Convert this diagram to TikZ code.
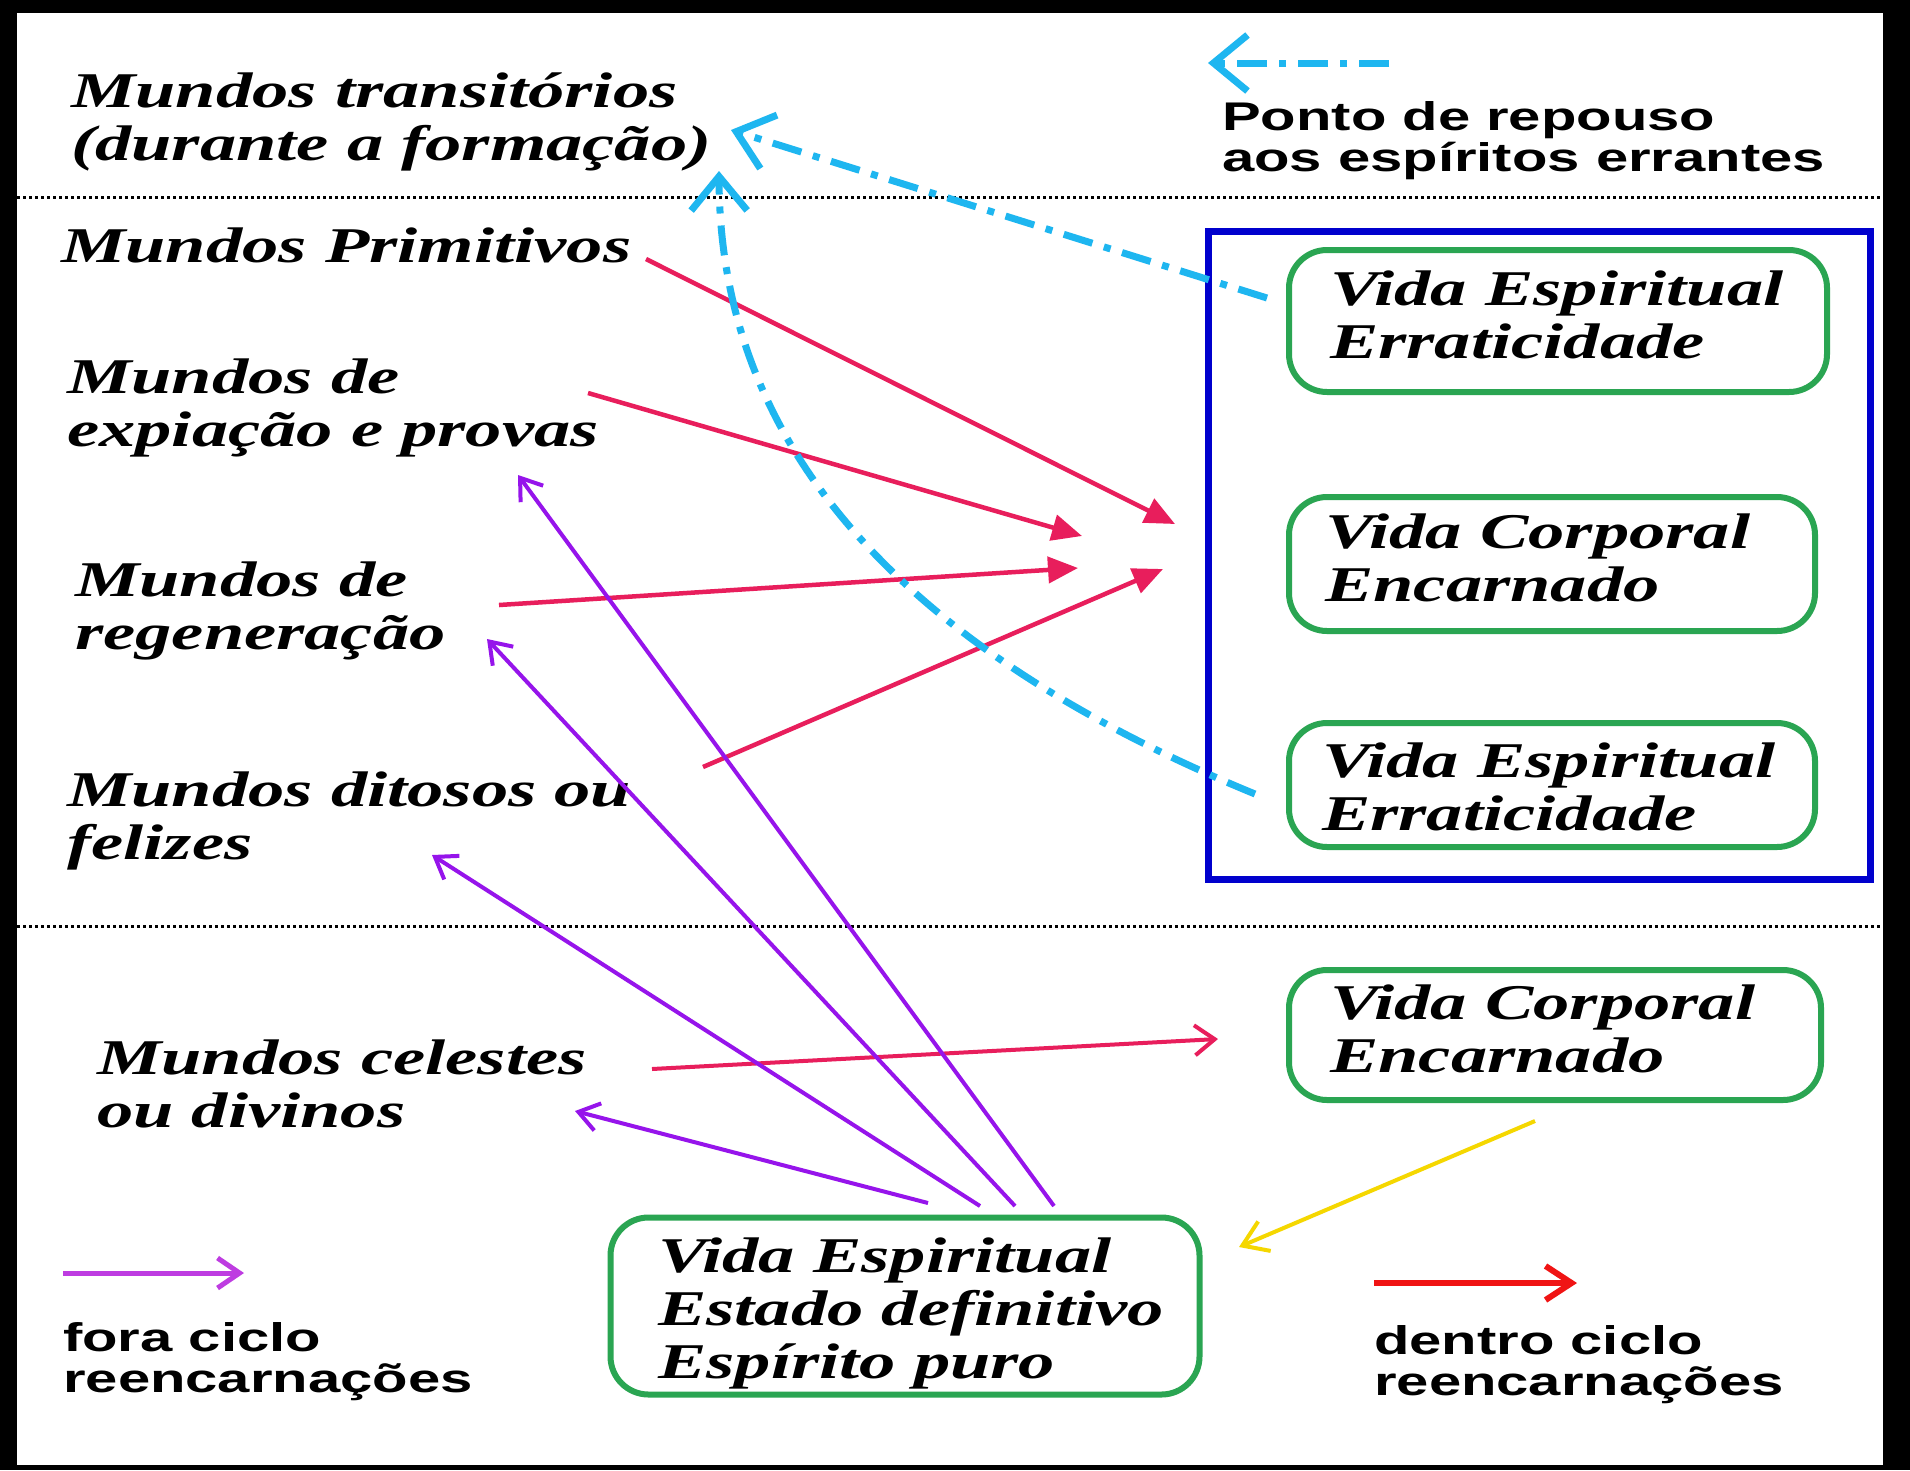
\documentclass[tikz,border=0pt]{standalone}
\usepackage{fontspec}
\usetikzlibrary{arrows.meta}
\newfontfamily\serifw{Liberation Serif}[FakeStretch=1.45]
\newfontfamily\sansw{Liberation Sans}[FakeStretch=1.45]
\definecolor{pinkc}{RGB}{232,30,92}
\definecolor{purpc}{RGB}{150,20,235}
\definecolor{legpurp}{RGB}{190,60,225}
\definecolor{cyanc}{RGB}{30,182,240}
\definecolor{greenc}{RGB}{42,165,82}
\definecolor{bluec}{RGB}{0,0,205}
\definecolor{yellc}{RGB}{245,215,0}
\definecolor{redc}{RGB}{240,20,20}
\begin{document}
\begin{tikzpicture}[x=1pt,y=-1pt,
  wtext/.style={inner sep=0pt, anchor=base west, align=left, font=\serifw\bfseries\itshape\fontsize{50}{53}\selectfont},
  stext/.style={inner sep=0pt, anchor=base west, align=left, font=\sansw\bfseries\fontsize{40}{41}\selectfont},
  gbox/.style={draw=greenc, line width=6pt, rounded corners=38pt, rectangle, inner sep=0pt},
  bbox/.style={draw=bluec, line width=7pt, rectangle, inner sep=0pt},
  sep/.style={draw=black, line width=3pt, dash pattern=on 3pt off 3pt},
  pinkarr/.style={draw=pinkc, line width=4.5pt, -{Triangle[length=30pt,width=26pt]}},
  pinkopen/.style={draw=pinkc, line width=4pt, -{Straight Barb[length=20pt,width=30pt]}},
  purparr/.style={draw=purpc, line width=4pt, -{Straight Barb[length=20pt,width=28pt]}},
  legpurparr/.style={draw=legpurp, line width=5pt, -{Straight Barb[length=22pt,width=30pt]}},
  redarr/.style={draw=redc, line width=6pt, -{Straight Barb[length=26pt,width=34pt]}},
  yellarr/.style={draw=yellc, line width=4pt, -{Straight Barb[length=24pt,width=32pt]}},
  cyanarr/.style={draw=cyanc, line width=7pt, dash pattern=on 30pt off 12pt on 7pt off 12pt, -{Straight Barb[length=34pt,width=56pt]}}
]
\useasboundingbox (0,0) rectangle (1910,1470);
\fill[black] (0,0) rectangle (1910,1470);
\fill[white] (17,13) rectangle (1883,1465);

% separators
\coordinate (s1a) at (17,197);
\coordinate (s1b) at (1910,197);
\coordinate (s2a) at (17,926);
\coordinate (s2b) at (1883,926);
\draw[sep] (s1a) -- (s1b);
\draw[sep] (s2a) -- (s2b);

% blue box
\node[bbox, minimum width=662pt, minimum height=648pt] (blue) at (1539,555) {};

% green boxes
\node[gbox, minimum width=538pt, minimum height=142pt] (g1) at (1558,321) {};
\node[gbox, minimum width=526pt, minimum height=134pt] (g2) at (1552,564) {};
\node[gbox, minimum width=526pt, minimum height=124pt] (g3) at (1552,785) {};
\node[gbox, minimum width=532pt, minimum height=130pt] (g4) at (1555,1035) {};
\node[gbox, minimum width=589pt, minimum height=177pt] (g5) at (905,1306) {};

% box texts (anchor = baseline of last line)
\node[wtext] (t1) at (1330,358) {Vida Espiritual\\Erraticidade};
\node[wtext] (t2) at (1325,601) {Vida Corporal\\Encarnado};
\node[wtext] (t3) at (1322,830) {Vida Espiritual\\Erraticidade};
\node[wtext] (t4) at (1330,1072) {Vida Corporal\\Encarnado};
\node[wtext] (t5) at (658,1378) {Vida Espiritual\\Estado definitivo\\Espírito puro};

% world labels
\node[wtext] (trans) at (71,160) {Mundos transitórios\\(durante a formação)};
\node[wtext] (prim) at (61,262) {Mundos Primitivos};
\node[wtext] (expi) at (67,446) {Mundos de\\expiação e provas};
\node[wtext] (rege) at (75,649) {Mundos de\\regeneração};
\node[wtext] (dito) at (67,859) {Mundos ditosos ou\\felizes};
\node[wtext] (cele) at (97,1127) {Mundos celestes\\ou divinos};

% legend texts
\node[stext] (ponto) at (1222,171) {Ponto de repouso\\aos espíritos errantes};
\node[stext] (fora) at (63,1392) {fora ciclo\\reencarnações};
\node[stext] (dentro) at (1374,1395) {dentro ciclo\\reencarnações};

% pink arrows
\coordinate (p1s) at (646,259);  \coordinate (p1e) at (1175,524);
\coordinate (p2s) at (588,393);  \coordinate (p2e) at (1082,536);
\coordinate (p3s) at (499,605);  \coordinate (p3e) at (1078,568);
\coordinate (p4s) at (703,767);  \coordinate (p4e) at (1163,569);
\coordinate (p5s) at (652,1069); \coordinate (p5e) at (1218,1039);
\draw[pinkarr] (p1s) -- (p1e);
\draw[pinkarr] (p2s) -- (p2e);
\draw[pinkarr] (p3s) -- (p3e);
\draw[pinkarr] (p4s) -- (p4e);
\draw[pinkopen] (p5s) -- (p5e);

% purple arrows
\coordinate (v1s) at (1054,1206); \coordinate (v1e) at (518,475);
\coordinate (v2s) at (1015,1206); \coordinate (v2e) at (487,639);
\coordinate (v3s) at (980,1206);  \coordinate (v3e) at (432,855);
\coordinate (v4s) at (928,1203);  \coordinate (v4e) at (575,1111);
\draw[purparr] (v1s) -- (v1e);
\draw[purparr] (v2s) -- (v2e);
\draw[purparr] (v3s) -- (v3e);
\draw[purparr] (v4s) -- (v4e);

% yellow arrow
\coordinate (ys) at (1535,1121); \coordinate (ye) at (1239,1247);
\draw[yellarr] (ys) -- (ye);

% cyan arrows
\coordinate (c1s) at (1267,298); \coordinate (c1e) at (731,130);
\coordinate (c2s) at (1255,794); \coordinate (c2e) at (719,171);
\draw[cyanarr] (c1s) -- (c1e);
\draw[cyanarr] (c2s) .. controls (880,640) and (720,430) .. (c2e);

% legend arrows
\coordinate (lcs) at (1389,63); \coordinate (lce) at (1208,63);
\draw[cyanarr] (lcs) -- (lce);
\coordinate (lps) at (63,1273); \coordinate (lpe) at (244,1273);
\draw[legpurparr] (lps) -- (lpe);
\coordinate (lrs) at (1374,1283); \coordinate (lre) at (1577,1283);
\draw[redarr] (lrs) -- (lre);
\end{tikzpicture}
\end{document}
